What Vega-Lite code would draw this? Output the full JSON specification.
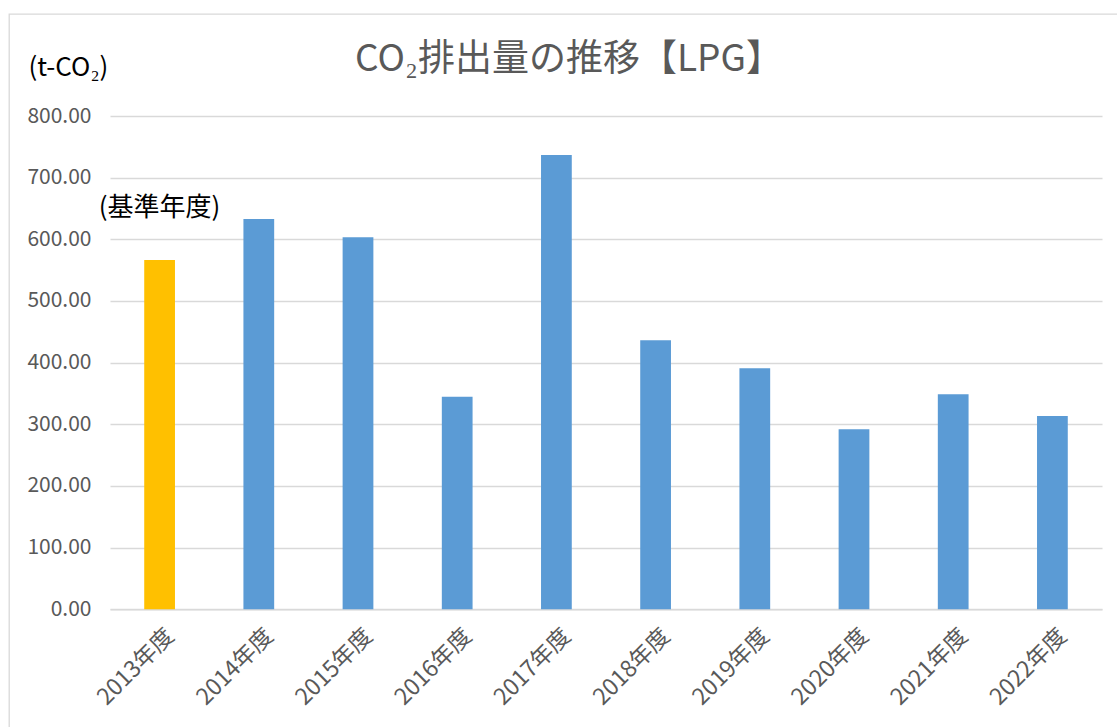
{
  "$schema": "https://vega.github.io/schema/vega-lite/v6.json",
  "autosize": "none",
  "padding": {"left": 9, "top": 14, "right": 0, "bottom": 0},
  "width": 1120,
  "height": 730,
  "background": "#ffffff",
  "title": {
    "text": "CO₂排出量の推移【LPG】",
    "anchor": "middle",
    "frame": "group",
    "font": "Noto Sans CJK JP",
    "fontSize": 37,
    "fontWeight": "normal",
    "color": "#595959",
    "baseline": "alphabetic",
    "offset": 0,
    "dy": 94
  },
  "datasets": {
    "emissions": [
      {"year": "2013年度", "co2": 566.6, "kind": "base"},
      {"year": "2014年度", "co2": 632.9, "kind": "other"},
      {"year": "2015年度", "co2": 603.2, "kind": "other"},
      {"year": "2016年度", "co2": 344.7, "kind": "other"},
      {"year": "2017年度", "co2": 736.7, "kind": "other"},
      {"year": "2018年度", "co2": 436.2, "kind": "other"},
      {"year": "2019年度", "co2": 390.8, "kind": "other"},
      {"year": "2020年度", "co2": 291.9, "kind": "other"},
      {"year": "2021年度", "co2": 348.6, "kind": "other"},
      {"year": "2022年度", "co2": 313.4, "kind": "other"}
    ],
    "notes": [
      {"year": "2013年度", "co2": 650, "label": "(基準年度)"}
    ]
  },
  "layer": [
    {
      "data": {"name": "emissions"},
      "mark": {"type": "bar"},
      "encoding": {
        "x": {
          "field": "year",
          "type": "nominal",
          "sort": null,
          "scale": {"range": [101, 1093], "paddingInner": 0.69, "paddingOuter": 0.345},
          "axis": {
            "title": null,
            "orient": "bottom",
            "offset": -134.7,
            "domain": true,
            "domainColor": "#d9d9d9",
            "domainWidth": 1.3,
            "ticks": false,
            "grid": false,
            "labelAngle": -45,
            "labelFont": "Noto Sans CJK JP",
            "labelFontSize": 23,
            "labelColor": "#595959",
            "labelPadding": 15,
            "labelOffset": 3
          }
        },
        "y": {
          "field": "co2",
          "type": "quantitative",
          "scale": {"domain": [0, 800], "range": [595.3, 102], "nice": false, "zero": true},
          "axis": {
            "values": [0, 100, 200, 300, 400, 500, 600, 700, 800],
            "format": ".2f",
            "orient": "left",
            "offset": -101,
            "domain": false,
            "ticks": false,
            "grid": true,
            "gridColor": "#d9d9d9",
            "gridWidth": 1.3,
            "labelFont": "Noto Sans CJK JP",
            "labelFontSize": 21,
            "labelColor": "#595959",
            "labelPadding": 19,
            "title": "(t-CO₂)",
            "titleAngle": 0,
            "titleAlign": "left",
            "titleBaseline": "middle",
            "titleX": -82,
            "titleY": 53,
            "titleFont": "Noto Sans CJK JP",
            "titleFontSize": 26,
            "titleFontWeight": "normal",
            "titleColor": "#000000"
          }
        },
        "color": {
          "field": "kind",
          "type": "nominal",
          "scale": {"domain": ["base", "other"], "range": ["#ffc000", "#5b9bd5"]},
          "legend": null
        }
      }
    },
    {
      "data": {"name": "notes"},
      "mark": {
        "type": "text",
        "font": "Noto Sans CJK JP",
        "fontSize": 26,
        "color": "#000000",
        "align": "center",
        "baseline": "middle"
      },
      "encoding": {
        "x": {"field": "year", "type": "nominal", "sort": null},
        "y": {"field": "co2", "type": "quantitative"},
        "text": {"field": "label"}
      }
    }
  ],
  "config": {
    "view": {"stroke": "#d9d9d9", "strokeWidth": 1.3, "fill": "#ffffff"}
  }
}
